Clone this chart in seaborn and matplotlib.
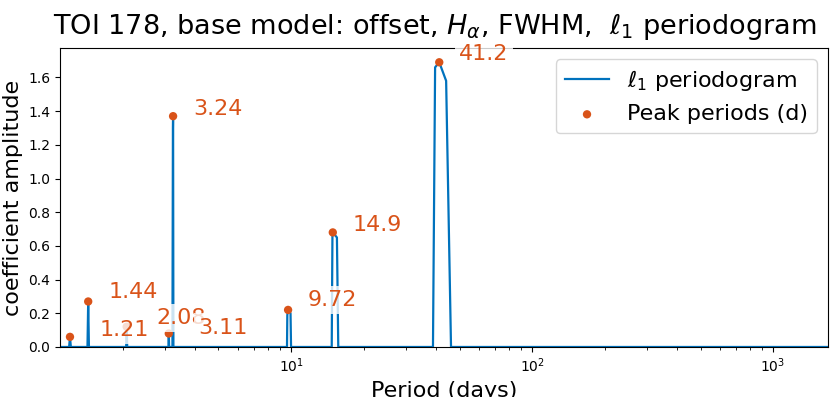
import matplotlib
matplotlib.use('Agg')
import matplotlib.pyplot as plt
import numpy as np
import seaborn as sns

# l1 periodogram (period in days, coefficient amplitude)
periods = [1.10, 1.20, 1.21, 1.22, 1.43, 1.44, 1.45, 2.07, 2.08, 2.09,
           3.10, 3.11, 3.12, 3.22, 3.235, 3.24, 3.25,
           9.62, 9.65, 9.72, 9.95, 10.0,
           14.75, 14.85, 14.9, 15.5, 15.7,
           38.8, 39.6, 41.2, 44.0, 46.1, 1690.0]
amplitudes = [0.0, 0.0, 0.06, 0.0, 0.0, 0.27, 0.0, 0.0, 0.12, 0.0,
              0.0, 0.08, 0.0, 0.0, 1.30, 1.37, 0.0,
              0.0, 0.19, 0.22, 0.20, 0.0,
              0.0, 0.66, 0.68, 0.65, 0.0,
              0.0, 1.66, 1.69, 1.58, 0.0, 0.0]

peak_periods = [1.21, 1.44, 2.08, 3.11, 3.24, 9.72, 14.9, 41.2]
peak_amps    = [0.06, 0.27, 0.12, 0.08, 1.37, 0.22, 0.68, 1.69]
peak_labels  = ['1.21', '1.44', '2.08', '3.11', '3.24', '9.72', '14.9', '41.2']

# label offsets from each peak, in pixels
label_offsets = [(30, 7), (20, 9), (30, 9), (29, 6), (20, 7), (20, 10), (20, 7), (20, 8)]

BLUE   = '#0072BD'
ORANGE = '#D95319'

fig = plt.figure(figsize=(8.3, 3.97), dpi=100)
ax = fig.add_axes([0.0723, 0.126, 0.9253, 0.753])

sns.lineplot(x=periods, y=amplitudes, ax=ax, color=BLUE, lw=1.6,
             estimator=None, sort=False, label=r'$\ell_1$ periodogram')
sns.scatterplot(x=peak_periods, y=peak_amps, ax=ax, color=ORANGE, s=36,
                edgecolor='none', zorder=3, label='Peak periods (d)')

for p, a, lab, off in zip(peak_periods, peak_amps, peak_labels, label_offsets):
    ax.annotate(lab, xy=(p, a), xytext=off, textcoords='offset pixels',
                ha='left', va='center', fontsize=16, color=ORANGE, zorder=4,
                annotation_clip=False,
                bbox=dict(facecolor='white', alpha=0.8, edgecolor='none', pad=3))

ax.set_xscale('log')
ax.set_xlim(1.10, 1690)
ax.set_ylim(0, 1.05 * max(peak_amps))
ax.set_yticks(np.arange(0, 1.7, 0.2))
ax.tick_params(axis='both', labelsize=10)

ax.set_xlabel('Period (days)', fontsize=16)
ax.set_ylabel('coefficient amplitude', fontsize=16)
ax.set_title(r'TOI 178, base model: offset, $H_\alpha$, FWHM,  $\ell_1$ periodogram',
             fontsize=19.5, pad=10, x=0.488)
ax.legend(loc='upper right', fontsize=16)

fig.savefig('out.png', dpi=100)
plt.close(fig)
